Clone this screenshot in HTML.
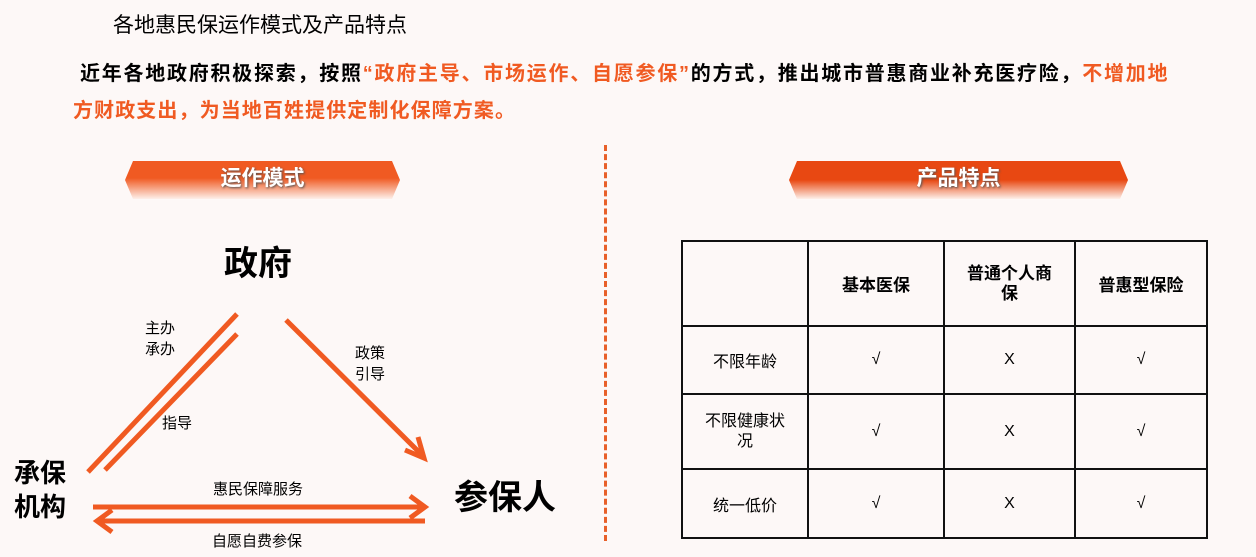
<!DOCTYPE html>
<html><head><meta charset="utf-8"><style>
body{margin:0;width:1256px;height:557px;background:#fdf8f7;position:relative;overflow:hidden;font-family:"Liberation Sans","Noto Sans CJK SC",sans-serif;color:#000}
.a{position:absolute;white-space:nowrap}
.o{color:#f05a22}
.banner{position:absolute;height:38px;clip-path:polygon(8px 0,calc(100% - 8px) 0,100% 50%,calc(100% - 8px) 100%,8px 100%,0 50%);color:#fff;font-weight:bold;font-size:21px;text-align:center;line-height:36px;text-shadow:1px 1px 2px #555}
table{position:absolute;left:681px;top:240px;border-collapse:collapse;font-size:16px}
td{border:2px solid #111;text-align:center;padding:0}
</style></head><body>
<div class="a" style="left:113px;top:9px;font-size:21px">各地惠民保运作模式及产品特点</div>
<div class="a" style="left:80px;top:57px;font-size:20px;font-weight:bold;letter-spacing:1.75px">近年各地政府积极探索，按照<span class="o">“政府主导、市场运作、自愿参保”</span>的方式，推出城市普惠商业补充医疗险，<span class="o">不增加地</span></div>
<div class="a o" style="left:73px;top:94px;font-size:20px;font-weight:bold;letter-spacing:1.1px">方财政支出，为当地百姓提供定制化保障方案。</div>

<div class="banner" style="left:125px;top:161px;width:275px;background:linear-gradient(#f05a22 0%,#f05a22 45%,#fdf0ea 100%)">运作模式</div>
<div class="banner" style="left:789px;top:161px;width:339px;background:linear-gradient(#e84812 0%,#e84812 50%,#fdf0ea 100%)">产品特点</div>

<div style="position:absolute;left:604px;top:145px;height:396px;border-left:3px dashed #e8602a"></div>

<svg class="a" style="left:0;top:0" width="600" height="557">
<g stroke="#f05a22" stroke-width="5" fill="none">
<line x1="237" y1="314" x2="88" y2="472"/>
<line x1="237" y1="334" x2="105" y2="470"/>
<line x1="286" y1="320" x2="422" y2="455"/>
<polyline points="405,450 424,458 418,437"/>
<line x1="93" y1="507" x2="424" y2="507"/>
<polyline points="410,496 425,507 410,518"/>
<line x1="425" y1="521" x2="97" y2="521"/>
<polyline points="112,510 97,521 112,532"/>
</g></svg>

<div class="a" style="left:224px;top:236px;font-size:34px;font-weight:bold">政府</div>
<div class="a" style="left:145px;top:318px;font-size:15px;line-height:21px">主办<br>承办</div>
<div class="a" style="left:355px;top:343px;font-size:15px;line-height:21px">政策<br>引导</div>
<div class="a" style="left:162px;top:412px;font-size:15px">指导</div>
<div class="a" style="left:14px;top:456px;font-size:26px;font-weight:bold;line-height:34px">承保<br>机构</div>
<div class="a" style="left:454px;top:470px;font-size:34px;font-weight:bold">参保人</div>
<div class="a" style="left:213px;top:478px;font-size:15px">惠民保障服务</div>
<div class="a" style="left:212px;top:530px;font-size:15px">自愿自费参保</div>

<table>
<tr style="height:85px;font-weight:bold;font-size:17px"><td style="width:124px"></td><td style="width:134px">基本医保</td><td style="width:129px;line-height:20px">普通个人商<br>保</td><td style="width:130px">普惠型保险</td></tr>
<tr style="height:68px"><td>不限年龄</td><td>√</td><td>X</td><td>√</td></tr>
<tr style="height:75px"><td style="line-height:20px">不限健康状<br>况</td><td>√</td><td>X</td><td>√</td></tr>
<tr style="height:69px"><td>统一低价</td><td>√</td><td>X</td><td>√</td></tr>
</table>
</body></html>
